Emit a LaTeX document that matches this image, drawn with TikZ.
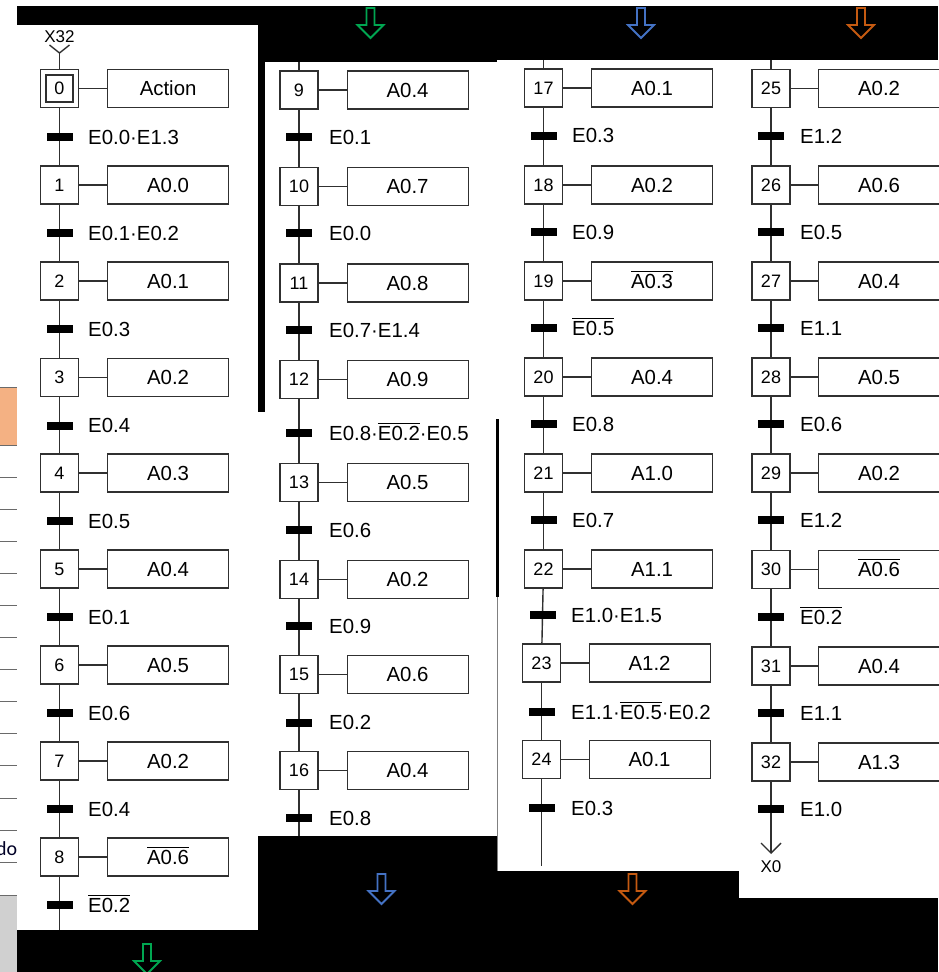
\documentclass[tikz,border=0pt]{standalone}
\usepackage{fontspec}
\setmainfont{Liberation Sans}
\newfontfamily\calfont{Carlito}
\definecolor{grnA}{HTML}{00A651}
\definecolor{bluA}{HTML}{4472C4}
\definecolor{orgA}{HTML}{C55A11}
\definecolor{cellorange}{HTML}{F4B183}
\definecolor{linegray}{HTML}{303030}
\definecolor{tablegray}{HTML}{6A6A6A}
\definecolor{sidegray}{HTML}{D0D0D0}
\pgfdeclarelayer{bg}
\pgfdeclarelayer{wires}
\pgfsetlayers{bg,wires,main}
\newcommand\ovl[1]{\setbox0\hbox{#1}\vbox{\hrule height 1.2pt width \wd0 \kern 2.2pt \box0}}
\tikzset{
  stepbox/.style={draw=linegray, line width=1.2pt, fill=white, minimum width=38pt, minimum height=38pt,
    inner sep=0pt, font=\fontsize{18}{21}\selectfont, text height=12.9pt, text depth=0pt},
  actbox/.style={draw=linegray, line width=1.2pt, fill=white, minimum width=121pt, minimum height=38pt,
    inner sep=0pt, anchor=west, font=\fontsize{20.4}{24}\selectfont, text height=14.6pt, text depth=0pt},
  trbar/.style={fill=black, minimum width=26pt, minimum height=8pt, inner sep=0pt},
  trlabel/.style={anchor=west, inner sep=0pt, font=\fontsize{20.4}{24}\selectfont, text height=14.6pt, text depth=0pt},
  wire/.style={draw=linegray, line width=1.4pt},
  xlab/.style={inner sep=0pt, font=\fontsize{17}{19}\selectfont, text height=12.2pt, text depth=0pt},
  hollowarrow/.style={line width=1.8pt, line join=miter},
}
\newcommand\stp[5]{%
  \node[stepbox] (s#1) at (#2,#3) {#1};
  \node[actbox] (a#1) at (#4,#3) {#5};
  \begin{pgfonlayer}{wires}\draw[wire] (s#1) -- (a#1);\end{pgfonlayer}}
\newcommand\trn[5]{%
  \node[trbar] (t#1) at (#2,#3) {};
  \node[trlabel] (l#1) at (#4,#3) {#5};}
\newcommand\harrow[3]{%
  \draw[hollowarrow, #3] (#1-4,#2) -- (#1+4,#2) -- (#1+4,#2+17) -- (#1+13,#2+17) -- (#1,#2+30)
    -- (#1-13,#2+17) -- (#1-4,#2+17) -- cycle;}
\begin{document}
\begin{tikzpicture}[x=1pt,y=-1pt]
\useasboundingbox (0,0) rectangle (938,972);
\begin{pgfonlayer}{bg}
  \fill[black] (0,0) rectangle (938,972);
  \fill[white] (0,0) rectangle (938,6);
  \fill[white] (0,0) rectangle (17,895);
  \fill[sidegray] (0,895) rectangle (17,972);
  \fill[cellorange] (0,387) rectangle (17,445);
  \draw[tablegray, line width=0.9pt] (0,387) -- (17,387) (0,445) -- (17,445) (0,895) -- (17,895);
  \foreach \k in {0,...,12} \draw[tablegray, line width=0.9pt] (0,477+32.1*\k) -- (17,477+32.1*\k);
  \fill[white] (17,25) rectangle (258,930);
  \fill[white] (265,62) rectangle (502,412);
  \fill[white] (258,412) rectangle (497,836);
  \fill[white] (497,60) rectangle (740,871);
  \fill[white] (739,60) rectangle (938,898);
  \draw[black, line width=2.6pt] (497.5,419) -- (497.5,597);
  \draw[gray, line width=0.8pt] (497,597) -- (497,871);
\end{pgfonlayer}
\node[anchor=base west, inner sep=0pt, font=\calfont\fontsize{20}{24}\selectfont, text=black!85!blue] (dotxt) at (-4,855) {do};
% arrows
\harrow{370.5}{8}{grnA}
\harrow{641}{8}{bluA}
\harrow{861}{8}{orgA}
\harrow{381.5}{874}{bluA}
\harrow{632.5}{874}{orgA}
\harrow{147}{944}{grnA}
% column 1
\node[xlab] (x32) at (59.5,36) {X32};
\coordinate (x32v) at (59.5,53);
\stp{0}{59.5}{88.5}{107}{Action}
\node[draw=linegray, line width=1.1pt, minimum size=27pt, inner sep=0pt] (s0in) at (s0.center) {};
\stp{1}{59.5}{185}{107}{A0.0}
\stp{2}{59.5}{281}{107}{A0.1}
\stp{3}{59.5}{377.5}{107}{A0.2}
\stp{4}{59.5}{473}{107}{A0.3}
\stp{5}{59.5}{569}{107}{A0.4}
\stp{6}{59.5}{665}{107}{A0.5}
\stp{7}{59.5}{761}{107}{A0.2}
\stp{8}{59.5}{857}{107}{\ovl{A0.6}}
\trn{0}{59.5}{137}{88}{E0.0·E1.3}
\trn{1}{59.5}{233}{88}{E0.1·E0.2}
\trn{2}{59.5}{329}{88}{E0.3}
\trn{3}{59.5}{425.5}{88}{E0.4}
\trn{4}{59.5}{521}{88}{E0.5}
\trn{5}{59.5}{617}{88}{E0.1}
\trn{6}{59.5}{713}{88}{E0.6}
\trn{7}{59.5}{809}{88}{E0.4}
\trn{8}{59.5}{905}{88}{\ovl{E0.2}}
\coordinate (c1end) at (59.5,930);
% column 2
\coordinate (c2top) at (299,62);
\stp{9}{299}{90}{346.5}{A0.4}
\stp{10}{299}{186.5}{346.5}{A0.7}
\stp{11}{299}{283}{346.5}{A0.8}
\stp{12}{299}{379.5}{346.5}{A0.9}
\stp{13}{299}{482.5}{346.5}{A0.5}
\stp{14}{299}{579.5}{346.5}{A0.2}
\stp{15}{299}{674.5}{346.5}{A0.6}
\stp{16}{299}{770.5}{346.5}{A0.4}
\trn{9}{299}{137}{329}{E0.1}
\trn{10}{299}{233}{329}{E0.0}
\trn{11}{299}{330}{329}{E0.7·E1.4}
\trn{12}{299}{433}{329}{E0.8·\ovl{E0.2}·E0.5}
\trn{13}{299}{530}{329}{E0.6}
\trn{14}{299}{626}{329}{E0.9}
\trn{15}{299}{722.5}{329}{E0.2}
\trn{16}{299}{818}{329}{E0.8}
\coordinate (c2end) at (299,836);
% column 3
\coordinate (c3top) at (543.5,60);
\stp{17}{543.5}{88}{591}{A0.1}
\stp{18}{543.5}{185}{591}{A0.2}
\stp{19}{543.5}{281}{591}{\ovl{A0.3}}
\stp{20}{543.5}{377}{591}{A0.4}
\stp{21}{543.5}{473}{591}{A1.0}
\stp{22}{543.5}{569}{591}{A1.1}
\stp{23}{541.5}{663}{588.5}{A1.2}
\stp{24}{541.5}{759.5}{588.5}{A0.1}
\trn{17}{543.5}{135.5}{572}{E0.3}
\trn{18}{543.5}{232}{572}{E0.9}
\trn{19}{543.5}{328}{572}{\ovl{E0.5}}
\trn{20}{543.5}{424}{572}{E0.8}
\trn{21}{543.5}{520}{572}{E0.7}
\trn{22}{542.5}{615}{571}{E1.0·E1.5}
\trn{23}{541.5}{712}{571}{E1.1·\ovl{E0.5}·E0.2}
\trn{24}{541.5}{808}{571}{E0.3}
\coordinate (c3end) at (541.5,866);
% column 4
\coordinate (c4top) at (771,60);
\stp{25}{771}{88.5}{818}{A0.2}
\stp{26}{771}{185}{818}{A0.6}
\stp{27}{771}{281}{818}{A0.4}
\stp{28}{771}{377}{818}{A0.5}
\stp{29}{771}{473}{818}{A0.2}
\stp{30}{771}{569.5}{818}{\ovl{A0.6}}
\stp{31}{771}{666}{818}{A0.4}
\stp{32}{771}{762}{818}{A1.3}
\trn{25}{771}{136}{800}{E1.2}
\trn{26}{771}{232}{800}{E0.5}
\trn{27}{771}{328}{800}{E1.1}
\trn{28}{771}{424}{800}{E0.6}
\trn{29}{771}{520}{800}{E1.2}
\trn{30}{771}{617}{800}{\ovl{E0.2}}
\trn{31}{771}{713}{800}{E1.1}
\trn{32}{771}{809}{800}{E1.0}
\coordinate (x0v) at (771,853);
\node[xlab] (x0) at (771,866) {X0};
% wires
\begin{pgfonlayer}{wires}
  \draw[wire] ([shift={(-10,-8)}]x32v) -- (x32v) -- ([shift={(10,-8)}]x32v);
  \draw[wire] (x32v) -- (s0);
  \foreach \i [evaluate=\i as \j using int(\i+1)] in {0,...,7,9,10,...,15,17,18,...,23,25,26,...,31}
    \draw[wire] (s\i) -- (s\j);
  \draw[wire] (s8) -- (c1end);
  \draw[wire] (c2top) -- (s9);
  \draw[wire] (s16) -- (c2end);
  \draw[wire] (c3top) -- (s17);
  \draw[wire] (s24) -- (c3end);
  \draw[wire] (c4top) -- (s25);
  \draw[wire] (s32) -- (x0v);
  \draw[wire] ([shift={(-10,-10)}]x0v) -- (x0v) -- ([shift={(10,-10)}]x0v);
\end{pgfonlayer}
\end{tikzpicture}
\end{document}
